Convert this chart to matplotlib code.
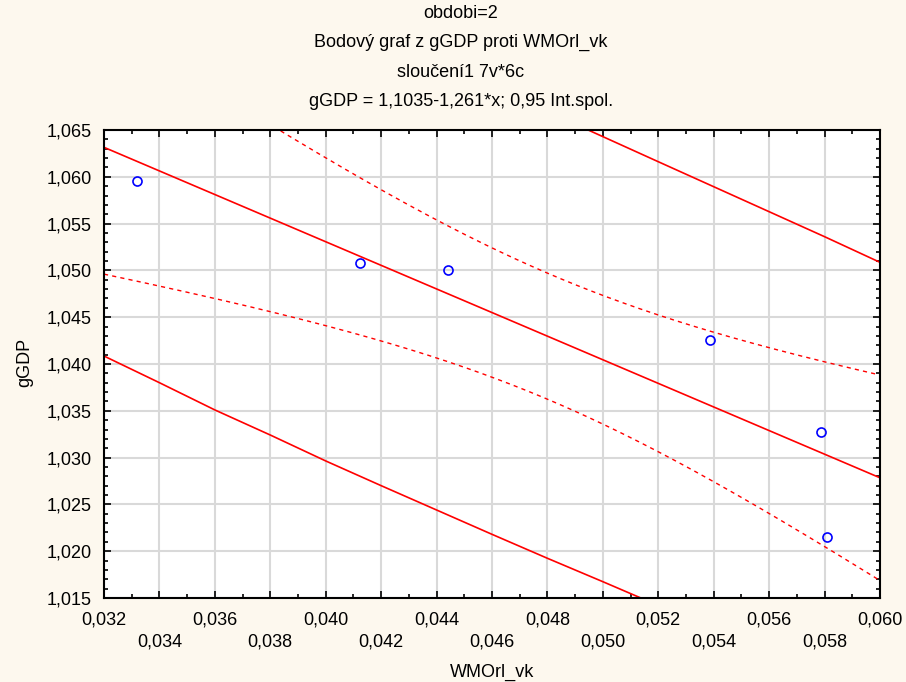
import numpy as np
import matplotlib
matplotlib.use("Agg")
import matplotlib.pyplot as plt

plt.rcParams['font.family'] = ['Liberation Sans', 'DejaVu Sans']

# observed points (WMOrl_vk, gGDP)
wmorl = [0.0332, 0.04124, 0.04441, 0.05387, 0.05787, 0.05809]
ggdp = [1.05955, 1.05079, 1.05004, 1.04256, 1.03274, 1.02152]

# regression from the chart title
b0 = 1.1035
b1 = -1.261
t_crit = 2.776  # t(0.975, df=4)

# outer (solid) limits
up_x = [0.048, 0.050, 0.052, 0.054, 0.056, 0.058, 0.060]
up_y = [1.06697, 1.06429, 1.06161, 1.05894, 1.05627, 1.05360, 1.05086]
lo_x = [0.032, 0.034, 0.036, 0.038, 0.040, 0.042, 0.044, 0.046,
        0.048, 0.050, 0.052]
lo_y = [1.04085, 1.03800, 1.03509, 1.03241, 1.02964, 1.02700, 1.02440,
        1.02180, 1.01924, 1.01674, 1.01420]

title_lines = ["obdobi=2",
               "Bodový graf z gGDP proti WMOrl_vk",
               "sloučení1 7v*6c",
               "gGDP = 1,1035-1,261*x; 0,95 Int.spol."]

xticks = [0.032, 0.034, 0.036, 0.038, 0.040, 0.042, 0.044, 0.046,
          0.048, 0.050, 0.052, 0.054, 0.056, 0.058, 0.060]
yticks = [1.015, 1.020, 1.025, 1.030, 1.035, 1.040, 1.045, 1.050,
          1.055, 1.060, 1.065]

x = np.array(wmorl)
y = np.array(ggdp)
n = len(x)
xm = x.mean()
resid = y - (b0 + b1 * x)
s = np.sqrt((resid ** 2).sum() / (n - 2))
sxx = ((x - xm) ** 2).sum()

xs = np.linspace(0.032, 0.060, 300)
yfit = b0 + b1 * xs
se_conf = s * np.sqrt(1 / n + (xs - xm) ** 2 / sxx)

fig = plt.figure(figsize=(9.06, 6.82), dpi=100, facecolor='#fdf8ee')
ax = fig.add_axes([0.1148, 0.1232, 0.8565, 0.6862])
ax.set_facecolor('white')

red = '#ff0000'
ax.plot(xs, yfit, color=red, lw=1.2)
ax.plot(xs, yfit + t_crit * se_conf, color=red, lw=1.0, dashes=(3, 3))
ax.plot(xs, yfit - t_crit * se_conf, color=red, lw=1.0, dashes=(3, 3))
ax.plot(up_x, up_y, color=red, lw=1.2)
ax.plot(lo_x, lo_y, color=red, lw=1.2)
ax.plot(x, y, 'o', ms=6.5, mfc='none', mec='#0000ff', mew=1.2)

ax.set_xlim(0.032, 0.060)
ax.set_ylim(1.015, 1.065)
ax.set_xticks(xticks)
ax.set_xticklabels([])
ax.set_xticks(np.arange(0.032, 0.0605, 0.001), minor=True)
ax.set_yticks(yticks)
ax.set_yticklabels([('%.3f' % v).replace('.', ',') for v in yticks], fontsize=13)
ax.set_yticks(np.arange(1.015, 1.0655, 0.001), minor=True)
ax.tick_params(which='both', direction='in', top=True, right=True, color='black')
ax.tick_params(which='major', length=5, width=1.2)
ax.tick_params(which='minor', length=3, width=1.2)
ax.tick_params(axis='y', pad=9)
ax.grid(True, which='major', color='#d9d9d9', lw=1.5)
ax.set_axisbelow(True)
for sp in ax.spines.values():
    sp.set_linewidth(1.5)

# x labels in two alternating rows
xtr = ax.get_xaxis_transform()
for i, v in enumerate(xticks):
    off = -0.047 if i % 2 == 0 else -0.094
    ax.text(v, off, ('%.3f' % v).replace('.', ','), transform=xtr,
            ha='center', va='center', fontsize=13)

ax.set_xlabel('WMOrl_vk', fontsize=13, va='center')
ax.xaxis.set_label_coords(0.5, -0.158)
ax.set_ylabel('gGDP', fontsize=13, va='center', ha='center')
ax.yaxis.set_label_coords(-0.102, 0.504)

ys = [0.9795, 0.9384, 0.8944, 0.8519]
for line, yy in zip(title_lines, ys):
    fig.text(0.5088, yy, line, ha='center', va='center', fontsize=13)

fig.savefig('out.png', dpi=100, facecolor=fig.get_facecolor())
